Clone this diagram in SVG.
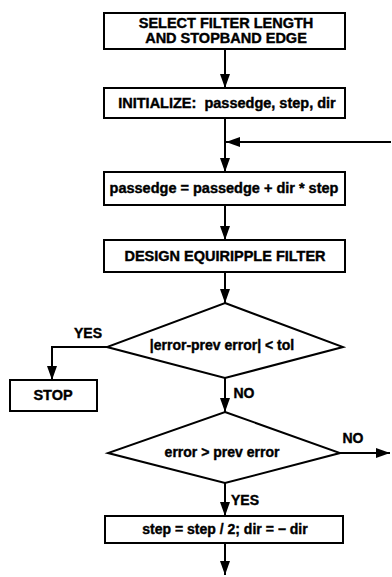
<svg xmlns="http://www.w3.org/2000/svg" width="392" height="577" viewBox="0 0 392 577">
<style>
.box{fill:#fff;stroke:#000;stroke-width:2}
.t{font-family:"Liberation Sans",Arial,sans-serif;font-weight:bold;fill:#000;stroke:#000;stroke-width:0.4;text-anchor:middle}
.b{font-size:14.5px}
.d{font-size:14px}
.l{font-size:14px}
.c{fill:none;stroke:#000;stroke-width:2}
</style>
<defs>
<marker id="ah" markerUnits="userSpaceOnUse" markerWidth="14" markerHeight="10" refX="14" refY="5" orient="auto">
<path d="M0,0 L14,5 L0,10 z" fill="#000"/>
</marker>
</defs>
<rect width="392" height="577" fill="#fff"/>
<g id="connectors">
<line class="c" x1="225" y1="49" x2="225" y2="88" marker-end="url(#ah)"/>
<line class="c" x1="225" y1="118" x2="225" y2="172" marker-end="url(#ah)"/>
<line class="c" x1="391" y1="142" x2="226" y2="142" marker-end="url(#ah)"/>
<line class="c" x1="225" y1="205" x2="225" y2="240" marker-end="url(#ah)"/>
<line class="c" x1="225" y1="272" x2="225" y2="303" marker-end="url(#ah)"/>
<polyline class="c" points="107,347 52,347 52,380" marker-end="url(#ah)"/>
<line class="c" x1="225" y1="378" x2="225" y2="412" marker-end="url(#ah)"/>
<line class="c" x1="340" y1="453" x2="390" y2="453" marker-end="url(#ah)"/>
<line class="c" x1="225" y1="483" x2="225" y2="516" marker-end="url(#ah)"/>
<line class="c" x1="225" y1="543" x2="225" y2="575" marker-end="url(#ah)"/>
<text class="t l" x="88" y="338">YES</text>
<text class="t l" x="244" y="398">NO</text>
<text class="t l" x="353" y="443">NO</text>
<text class="t l" x="245" y="505">YES</text>
</g>
<g id="select">
<rect class="box" x="104" y="13" width="241" height="36"/>
<text class="t b" x="226" y="28">SELECT FILTER LENGTH</text>
<text class="t b" x="226" y="43">AND STOPBAND EDGE</text>
</g>
<g id="initialize">
<rect class="box" x="104" y="88" width="241" height="30"/>
<text class="t b" x="227" y="108" xml:space="preserve">INITIALIZE:  passedge, step, dir</text>
</g>
<g id="update">
<rect class="box" x="104" y="172" width="241" height="33"/>
<text class="t b" x="224" y="193">passedge = passedge + dir * step</text>
</g>
<g id="design">
<rect class="box" x="104" y="240" width="241" height="32"/>
<text class="t b" x="225" y="261">DESIGN EQUIRIPPLE FILTER</text>
</g>
<g id="tolcheck">
<polygon class="box" points="225,303 343,347 225,378 107,347"/>
<text class="t d" x="222" y="350">|error-prev error| &lt; tol</text>
</g>
<g id="stop">
<rect class="box" x="10" y="380" width="87" height="31"/>
<text class="t b" x="53" y="400">STOP</text>
</g>
<g id="errcheck">
<polygon class="box" points="225,412 340,453 225,483 108,453"/>
<text class="t d" x="222" y="457">error &gt; prev error</text>
</g>
<g id="halve">
<rect class="box" x="105" y="516" width="238" height="27"/>
<text class="t d" x="225" y="534">step = step / 2; dir = − dir</text>
</g>
</svg>
